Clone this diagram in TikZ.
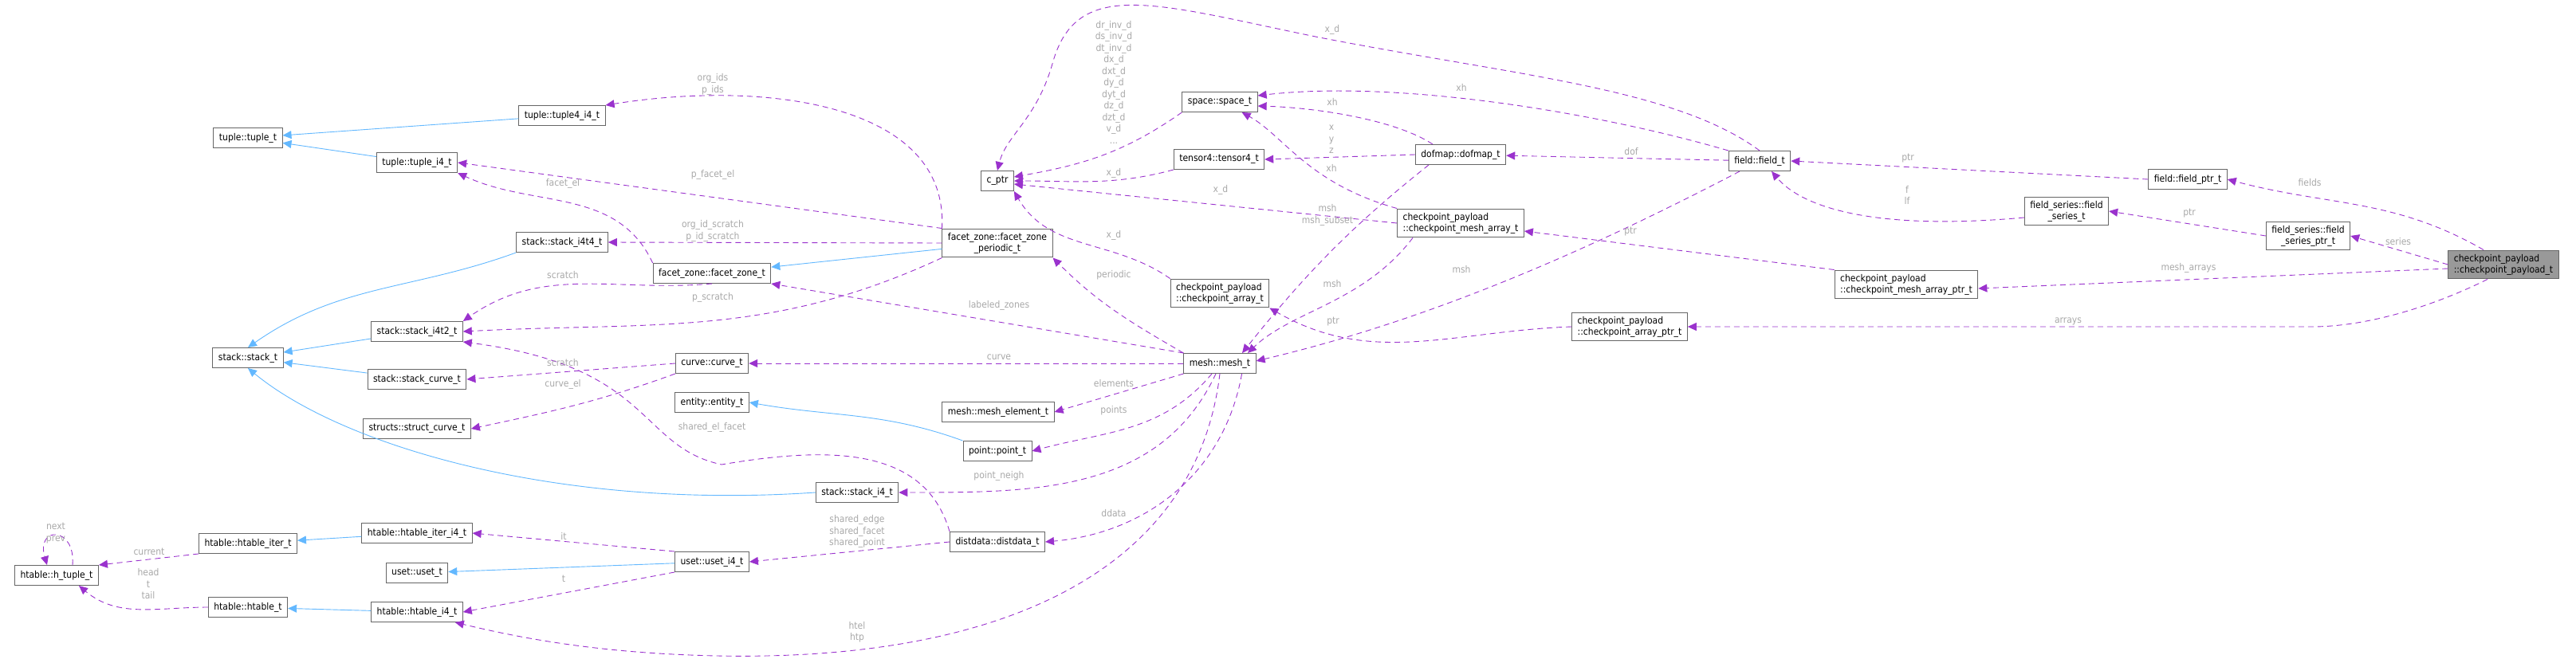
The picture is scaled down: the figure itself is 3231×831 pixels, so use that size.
\documentclass[tikz,border=0pt]{standalone}
\usepackage{fontspec}
\setmainfont{DejaVu Sans Condensed}
\usetikzlibrary{arrows.meta}
\definecolor{edgepurple}{HTML}{9A32CD}
\definecolor{edgeblue}{HTML}{63B8FF}
\definecolor{lblgray}{HTML}{A8A8A8}
\definecolor{boxgray}{HTML}{666666}

\tikzset{
  cls/.style={draw=boxgray, fill=white, line width=1pt, inner xsep=7pt, inner ysep=5pt,
    minimum height=25pt, font=\fontsize{12}{14}\selectfont},
  cls2/.style={cls, align=left},
  inh/.style={draw=edgeblue, line width=0.9pt, -{Triangle[length=11pt,width=10pt]}},
  use/.style={draw=edgepurple, line width=0.9pt, dashed, dash pattern=on 7pt off 5pt,
    -{Triangle[length=11pt,width=10pt]}},
  lbl/.style={text=lblgray, align=center, font=\fontsize{12}{14.5}\selectfont, inner sep=0pt},
}

\begin{document}
\begin{tikzpicture}[x=1pt, y=-1pt]
	\useasboundingbox (0,0) rectangle (3231,831);

	% classes, left part
	\node[cls] (tuple) at (311,173) {tuple::tuple\_t};
	\node[cls] (tuplefour) at (705,145) {tuple::tuple4\_i4\_t};
	\node[cls] (tuplei) at (523,204) {tuple::tuple\_i4\_t};
	\node[cls] (stackfour) at (705,304) {stack::stack\_i4t4\_t};
	\node[cls] (stacktwo) at (523,416) {stack::stack\_i4t2\_t};
	\node[cls] (stack) at (311,449) {stack::stack\_t};
	\node[cls] (stackcurve) at (523,476) {stack::stack\_curve\_t};
	\node[cls] (structcurve) at (523,538) {structs::struct\_curve\_t};
	\node[cls] (htuple) at (71,722) {htable::h\_tuple\_t};
	\node[cls] (hiter) at (311,682) {htable::htable\_iter\_t};
	\node[cls] (hiteri) at (523,669) {htable::htable\_iter\_i4\_t};
	\node[cls] (uset) at (523,719) {uset::uset\_t};
	\node[cls] (htable) at (311,762) {htable::htable\_t};
	\node[cls] (htablei) at (523,768) {htable::htable\_i4\_t};

	% classes, middle part
	\node[cls] (fzone) at (893,343) {facet\_zone::facet\_zone\_t};
	\node[cls, align=center] (fzoneper) at (1251,305) {facet\_zone::facet\_zone\\\_periodic\_t};
	\node[cls] (cptr) at (1251,227) {c\_ptr};
	\node[cls] (space) at (1530,128) {space::space\_t};
	\node[cls] (tensor) at (1529,200) {tensor4::tensor4\_t};
	\node[cls2] (cparray) at (1530,368) {checkpoint\_payload\\::checkpoint\_array\_t};
	\node[cls] (curve) at (893,456) {curve::curve\_t};
	\node[cls] (entity) at (893,505) {entity::entity\_t};
	\node[cls] (mesh) at (1530,456) {mesh::mesh\_t};
	\node[cls] (meshel) at (1252,517) {mesh::mesh\_element\_t};
	\node[cls] (point) at (1251,566) {point::point\_t};
	\node[cls] (stacki) at (1075,618) {stack::stack\_i4\_t};
	\node[cls] (distdata) at (1251,680) {distdata::distdata\_t};
	\node[cls] (useti) at (893,705) {uset::uset\_i4\_t};

	% classes, right part
	\node[cls] (dofmap) at (1832,194) {dofmap::dofmap\_t};
	\node[cls] (field) at (2207,202) {field::field\_t};
	\node[cls2] (cpmesh) at (1832,280) {checkpoint\_payload\\::checkpoint\_mesh\_array\_t};
	\node[cls2] (cpmeshptr) at (2391,357) {checkpoint\_payload\\::checkpoint\_mesh\_array\_ptr\_t};
	\node[cls2] (cparrayptr) at (2044,410) {checkpoint\_payload\\::checkpoint\_array\_ptr\_t};
	\node[cls] (fieldptr) at (2744,225) {field::field\_ptr\_t};
	\node[cls, align=center] (series) at (2592,265) {field\_series::field\\\_series\_t};
	\node[cls, align=center] (seriesptr) at (2895,296) {field\_series::field\\\_series\_ptr\_t};
	\node[cls2, fill=black!40] (payload) at (3140,332) {checkpoint\_payload\\::checkpoint\_payload\_t};

	% inheritance
	\draw[inh] (tuplefour) -- (tuple);
	\draw[inh] (tuplei) -- (tuple);
	\draw[inh] (stackfour.south west) to[out=200, in=35] (stack.north);
	\draw[inh] (stacktwo) -- (stack);
	\draw[inh] (stackcurve) -- (stack);
	\draw[inh] (stacki.west) .. controls (700,640) and (430,560) .. (stack.south);
	\draw[inh] (fzoneper) -- (fzone);
	\draw[inh] (point.north west) to[out=160, in=-10] (entity.east);
	\draw[inh] (hiteri) -- (hiter);
	\draw[inh] (useti) -- (uset);
	\draw[inh] (htablei) -- (htable);

	% members, left part
	\draw[use] (fzoneper.north west) .. controls (1190,130) and (960,100) .. (tuplefour.north east);
	\draw[use] (fzoneper.north west) -- (tuplei.east);
	\draw[use] (fzone.north west) to[out=115, in=-25] (tuplei.south east);
	\draw[use] (fzoneper.west) -- (stackfour.east);
	\draw[use] (fzone.south) to[out=185, in=35] (stacktwo.north east);
	\draw[use] (fzoneper.south west) to[out=205, in=3] (stacktwo.east);
	\draw[use] (distdata.north west) .. controls (1160,560) and (1040,560) .. (905,583)
		.. controls (800,560) and (820,460) .. (stacktwo.south east);
	\draw[use] (curve.west) -- (stackcurve.east);
	\draw[use] (curve.south west) to[out=200, in=12] (structcurve.east);
	\draw[use] ([xshift=20pt]htuple.north) .. controls (95,660) and (45,660) .. ([xshift=-12pt]htuple.north);
	\draw[use] (hiter.south west) -- (htuple.north east);
	\draw[use] (htable.west) to[out=180, in=-40] ([xshift=28pt]htuple.south);
	\draw[use] (useti.north west) -- (hiteri.east);
	\draw[use] (useti.south west) -- (htablei.east);
	\draw[use] (mesh.south) .. controls (1500,720) and (1250,830) .. (900,823)
		.. controls (750,820) and (650,800) .. ([xshift=-10pt]htablei.south east);
	\draw[use] (distdata.west) -- (useti.east);

	% members of mesh
	\draw[use] (mesh.west) -- (curve.east);
	\draw[use] (mesh.south west) -- (meshel.east);
	\draw[use] ([xshift=-10pt]mesh.south) to[out=-130, in=15] (point.east);
	\draw[use] ([xshift=-5pt]mesh.south) to[out=-115, in=0] (stacki.east);
	\draw[use] ([xshift=-18pt]mesh.south east) to[out=-100, in=5] (distdata.east);
	\draw[use] (mesh.north west) -- (fzone.south east);
	\draw[use] (mesh.north west) to[out=150, in=-45] (fzoneper.south east);

	% members, c_ptr, space and tensor
	\draw[use] (cparray.north west) to[out=145, in=-60] (cptr.south east);
	\draw[use] (space.south west) to[out=215, in=10] ([yshift=5pt]cptr.east);
	\draw[use] (tensor.south west) to[out=195, in=0] (cptr.east);
	\draw[use] (cpmesh.west) -- ([yshift=-4pt]cptr.east);
	\draw[use] (field.north) .. controls (2100,110) and (1900,95) .. (1650,46)
		.. controls (1450,5) and (1350,-30) .. (1320,80) .. controls (1300,150) and (1262,170) .. (cptr.north);
	\draw[use] (field.north west) .. controls (2000,140) and (1750,100) .. ([yshift=8pt]space.east);
	\draw[use] ([xshift=-35pt]dofmap.north) .. controls (1750,150) and (1650,135) .. ([yshift=-5pt]space.east);
	\draw[use] (cpmesh.north west) .. controls (1640,230) and (1610,170) .. ([xshift=-20pt]space.south east);
	\draw[use] (dofmap.west) -- (tensor.east);
	\draw[use] ([xshift=-40pt]dofmap.south) .. controls (1700,280) and (1640,340) .. ([xshift=28pt]mesh.north);
	\draw[use] ([xshift=-60pt]cpmesh.south) .. controls (1710,380) and (1620,390) .. ([xshift=35pt]mesh.north);
	\draw[use] ([xshift=-25pt]field.south) .. controls (2000,310) and (1800,400) .. ([yshift=3pt]mesh.east);

	% members, right part
	\draw[use] (field) -- (dofmap);
	\draw[use] (cparrayptr.west) to[out=182, in=-30] (cparray.south east);
	\draw[use] (cpmeshptr.north west) -- ([yshift=-10pt]cpmesh.east);
	\draw[use] (fieldptr.west) -- (field.east);
	\draw[use] ([yshift=-8pt]series.west) .. controls (2350,290) and (2260,260) .. ([xshift=15pt]field.south);
	\draw[use] (seriesptr.west) -- (series.east);
	\draw[use] ([xshift=-25pt]payload.north) to[out=150, in=-15] (fieldptr.east);
	\draw[use] (payload.west) -- (seriesptr.east);
	\draw[use] ([yshift=-5pt]payload.west) -- ([yshift=-5pt]cpmeshptr.east);
	\draw[use] ([xshift=-20pt]payload.south) .. controls (3040,390) and (2960,410) .. (2900,410) -- (cparrayptr.east);

	% labels
	\node[lbl] (lorg) at (894,106) {org\_ids\\p\_ids};
	\node[lbl] (lpfacet) at (894,219) {p\_facet\_el};
	\node[lbl] (lfacet) at (706,230) {facet\_el};
	\node[lbl] (lorgscr) at (894,290) {org\_id\_scratch\\p\_id\_scratch};
	\node[lbl] (lscr) at (706,345) {scratch};
	\node[lbl] (lpscr) at (894,373) {p\_scratch};
	\node[lbl] (lscrb) at (706,455) {scratch};
	\node[lbl] (lcurveel) at (706,482) {curve\_el};
	\node[lbl] (lnext) at (70,669) {next\\prev};
	\node[lbl] (lcur) at (187,692) {current};
	\node[lbl] (lhead) at (186,733) {head\\t\\tail};
	\node[lbl] (lit) at (707,673) {it};
	\node[lbl] (lt) at (707,726) {t};
	\node[lbl] (lshel) at (893,536) {shared\_el\_facet};
	\node[lbl] (lshared) at (1075,667) {shared\_edge\\shared\_facet\\shared\_point};
	\node[lbl] (lhtel) at (1075,793) {htel\\htp};
	\node[lbl] (lcurve) at (1253,448) {curve};
	\node[lbl] (lelem) at (1397,481) {elements};
	\node[lbl] (lpoints) at (1397,515) {points};
	\node[lbl] (lneigh) at (1253,597) {point\_neigh};
	\node[lbl] (lddata) at (1397,644) {ddata};
	\node[lbl] (lzones) at (1253,383) {labeled\_zones};
	\node[lbl] (lper) at (1397,345) {periodic};
	\node[lbl] (lxdarr) at (1397,295) {x\_d};
	\node[lbl] (lxdten) at (1397,217) {x\_d};
	\node[lbl] (lxdmesh) at (1531,238) {x\_d};
	\node[lbl] (ldr) at (1397,103) {dr\_inv\_d\\ds\_inv\_d\\dt\_inv\_d\\dx\_d\\dxt\_d\\dy\_d\\dyt\_d\\dz\_d\\dzt\_d\\v\_d\\...};
	\node[lbl] (lxdfield) at (1671,37) {x\_d};
	\node[lbl] (lxhdof) at (1671,128) {xh};
	\node[lbl] (lxyz) at (1670,175) {x\\y\\z};
	\node[lbl] (lxhcp) at (1670,211) {xh};
	\node[lbl] (lmshsub) at (1665,270) {msh\\msh\_subset};
	\node[lbl] (lmshdof) at (1671,356) {msh};
	\node[lbl] (lptrarr) at (1672,404) {ptr};
	\node[lbl] (lxhfield) at (1833,110) {xh};
	\node[lbl] (ldof) at (2046,190) {dof};
	\node[lbl] (lptrmesh) at (2045,291) {ptr};
	\node[lbl] (lmshfield) at (1833,338) {msh};
	\node[lbl] (lptrfield) at (2393,199) {ptr};
	\node[lbl] (lf) at (2392,245) {f\\lf};
	\node[lbl] (lfields) at (2897,229) {fields};
	\node[lbl] (lptrser) at (2746,268) {ptr};
	\node[lbl] (lseries) at (3008,303) {series};
	\node[lbl] (lmesharr) at (2745,336) {mesh\_arrays};
	\node[lbl] (larrays) at (2594,403) {arrays};
\end{tikzpicture}
\end{document}
